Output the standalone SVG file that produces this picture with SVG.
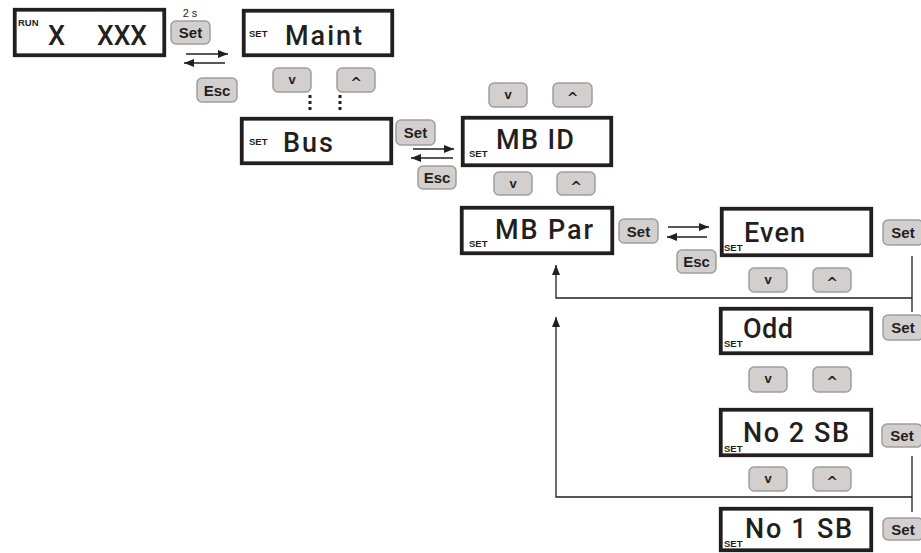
<svg xmlns="http://www.w3.org/2000/svg" width="921" height="553" viewBox="0 0 921 553">
<style>
.box{fill:#fff;stroke:#231f20;stroke-width:3.8}
.btn{fill:#d3cfcf;stroke:#a19d9d;stroke-width:1.5}
.bt{font-family:"Liberation Sans",Arial,sans-serif;font-weight:bold;font-size:15px;fill:#231f20;text-anchor:middle}
.sym{font-family:"Liberation Sans",Arial,sans-serif;font-weight:bold;font-size:13px;fill:#231f20;text-anchor:middle}
.car{font-family:"DejaVu Sans",sans-serif;font-weight:bold;font-size:14px;fill:#231f20;text-anchor:middle}
.big{font-family:Roboto,"Liberation Sans",Arial,sans-serif;font-weight:500;font-size:27px;fill:#231f20}
.sm{font-family:"Liberation Sans",Arial,sans-serif;font-weight:bold;font-size:9.5px;fill:#231f20}
.ln{fill:none;stroke:#231f20;stroke-width:1.3}
</style>
<defs>
<marker id="ah" viewBox="0 0 10 8" refX="10" refY="4" markerWidth="10" markerHeight="8" markerUnits="userSpaceOnUse" orient="auto">
<path d="M0,0 L10,4 L0,8 Z" fill="#231f20"/>
</marker>
</defs>

<g id="connectors">
<line class="ln" x1="186" y1="54" x2="228" y2="54" stroke="#555" marker-end="url(#ah)"/>
<line class="ln" x1="225" y1="63" x2="184" y2="63" marker-end="url(#ah)"/>
<line class="ln" x1="413" y1="149" x2="454" y2="149" marker-end="url(#ah)"/>
<line class="ln" x1="453" y1="158" x2="411" y2="158" marker-end="url(#ah)"/>
<line class="ln" x1="668" y1="227" x2="709" y2="227" marker-end="url(#ah)"/>
<line class="ln" x1="707" y1="237" x2="667" y2="237" marker-end="url(#ah)"/>
<line x1="310" y1="95" x2="310" y2="111" stroke="#231f20" stroke-width="3" stroke-dasharray="3 3"/>
<line x1="340" y1="95" x2="340" y2="111" stroke="#231f20" stroke-width="3" stroke-dasharray="3 3"/>
<line class="ln" x1="912" y1="256" x2="912" y2="312"/>
<path class="ln" d="M912,298 H556 V265" marker-end="url(#ah)"/>
<line class="ln" x1="912" y1="456" x2="912" y2="512"/>
<path class="ln" d="M912,497 H556 V317" marker-end="url(#ah)"/>
</g>

<g id="run">
<rect class="box" x="14.75" y="9.75" width="149.5" height="45.5"/>
<text class="sm" x="18" y="26" font-weight="normal">RUN</text>
<text class="big" x="48" y="45" font-size="26">X</text>
<text class="big" x="97" y="45" font-size="26" textLength="50" lengthAdjust="spacingAndGlyphs">XXX</text>
</g>
<g id="btn-set1">
<text x="190" y="17" font-family="Liberation Sans,Arial,sans-serif" font-size="11" text-anchor="middle" fill="#231f20">2 s</text>
<rect class="btn" x="171" y="21" width="39" height="23" rx="5"/>
<text class="bt" x="190.5" y="38">Set</text>
</g>
<g id="btn-esc1">
<rect class="btn" x="197" y="78" width="40" height="24" rx="5"/>
<text class="bt" x="217" y="95.5">Esc</text>
</g>

<g id="maint">
<rect class="box" x="243.75" y="10.75" width="148.5" height="44.5"/>
<text class="sm" x="249" y="37">SET</text>
<text class="big" x="285" y="45" font-size="28" textLength="77">Maint</text>
</g>
<g id="maint-btns">
<rect class="btn" x="273" y="68" width="38" height="24" rx="5"/>
<text class="sym" x="292" y="84">v</text>
<rect class="btn" x="337" y="68" width="38" height="24" rx="5"/>
<text class="car" x="356" y="88">^</text>
</g>

<g id="bus">
<rect class="box" x="241.75" y="118.75" width="149.5" height="44.5"/>
<text class="sm" x="249" y="145">SET</text>
<text class="big" x="283" y="152" textLength="50">Bus</text>
</g>
<g id="bus-btns">
<rect class="btn" x="396" y="120" width="39" height="25" rx="5"/>
<text class="bt" x="415.5" y="138">Set</text>
<rect class="btn" x="418" y="166" width="38" height="23" rx="5"/>
<text class="bt" x="437" y="183">Esc</text>
</g>

<g id="mbid">
<rect class="box" x="462.75" y="117.75" width="148.5" height="47.5"/>
<text class="sm" x="469" y="157">SET</text>
<text class="big" x="496" y="149" textLength="78">MB ID</text>
</g>
<g id="mbid-btns">
<rect class="btn" x="489" y="83" width="38" height="24" rx="5"/>
<text class="sym" x="508" y="99">v</text>
<rect class="btn" x="553" y="83" width="39" height="24" rx="5"/>
<text class="car" x="572.5" y="103">^</text>
<rect class="btn" x="494" y="172" width="38" height="23" rx="5"/>
<text class="sym" x="513" y="188">v</text>
<rect class="btn" x="557" y="172" width="38" height="23" rx="5"/>
<text class="car" x="576" y="192">^</text>
</g>

<g id="mbpar">
<rect class="box" x="461.75" y="207.75" width="150.5" height="45.5"/>
<text class="sm" x="469" y="247">SET</text>
<text class="big" x="495" y="239" textLength="98">MB Par</text>
</g>
<g id="mbpar-btns">
<rect class="btn" x="619" y="219" width="39" height="24" rx="5"/>
<text class="bt" x="638.5" y="236.5">Set</text>
<rect class="btn" x="677" y="250" width="39" height="23" rx="5"/>
<text class="bt" x="696.5" y="267">Esc</text>
</g>

<g id="even">
<rect class="box" x="721.75" y="208.75" width="149.5" height="46.5"/>
<text class="sm" x="724" y="251">SET</text>
<text class="big" x="744" y="242" textLength="61">Even</text>
</g>
<g id="even-btns">
<rect class="btn" x="883" y="220" width="40" height="25" rx="5"/>
<text class="bt" x="903" y="238">Set</text>
<rect class="btn" x="749" y="268" width="38" height="24" rx="5"/>
<text class="sym" x="768" y="284">v</text>
<rect class="btn" x="813" y="268" width="38" height="24" rx="5"/>
<text class="car" x="832" y="288">^</text>
</g>

<g id="odd">
<rect class="box" x="720.75" y="308.75" width="150.5" height="44.5"/>
<text class="sm" x="724" y="347">SET</text>
<text class="big" x="743" y="338" textLength="50">Odd</text>
</g>
<g id="odd-btns">
<rect class="btn" x="883" y="315" width="40" height="25" rx="5"/>
<text class="bt" x="903" y="333">Set</text>
<rect class="btn" x="749" y="367" width="38" height="25" rx="5"/>
<text class="sym" x="768" y="383">v</text>
<rect class="btn" x="813" y="367" width="38" height="25" rx="5"/>
<text class="car" x="832" y="387">^</text>
</g>

<g id="no2sb">
<rect class="box" x="720.75" y="409.75" width="150.5" height="45.5"/>
<text class="sm" x="724" y="452">SET</text>
<text class="big" x="743" y="442" textLength="106">No 2 SB</text>
</g>
<g id="no2sb-btns">
<rect class="btn" x="882" y="424" width="40" height="23" rx="5"/>
<text class="bt" x="902" y="441">Set</text>
<rect class="btn" x="749" y="467" width="38" height="24" rx="5"/>
<text class="sym" x="768" y="483">v</text>
<rect class="btn" x="813" y="467" width="38" height="24" rx="5"/>
<text class="car" x="832" y="487">^</text>
</g>

<g id="no1sb">
<rect class="box" x="720.75" y="508.75" width="150.5" height="41.5"/>
<text class="sm" x="724" y="547">SET</text>
<text class="big" x="745" y="538" textLength="107">No 1 SB</text>
</g>
<g id="no1sb-btns">
<rect class="btn" x="883" y="518" width="40" height="22" rx="5"/>
<text class="bt" x="903" y="534.5">Set</text>
</g>
</svg>
